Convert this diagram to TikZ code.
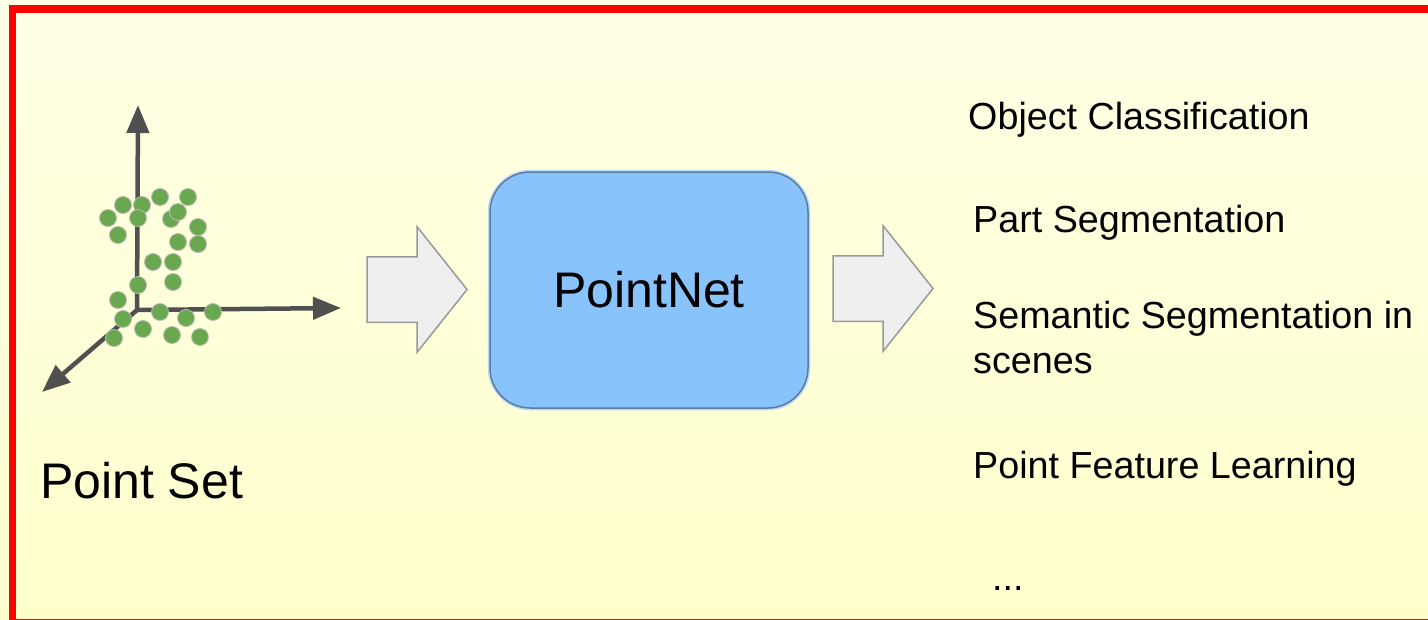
\documentclass[tikz,border=0pt]{standalone}
\usepackage{fontspec}
\setmainfont{Liberation Sans}
\usetikzlibrary{arrows.meta,positioning,shapes.arrows}
\definecolor{SetGreen}{HTML}{6AA84F}
\definecolor{AxisGray}{HTML}{505050}
\definecolor{NetBlue}{HTML}{89C3FB}
\definecolor{NetEdge}{HTML}{5E7C99}
\definecolor{PaleGray}{HTML}{EFEFEF}
\definecolor{FrameRed}{HTML}{FF0000}
\definecolor{PaperTop}{HTML}{FFFFE6}
\definecolor{PaperBottom}{HTML}{FFFFCC}
\tikzset{
  axis/.style={line width=4.5pt,draw=AxisGray,-{Triangle[length=28pt,width=22pt]}},
  setpoint/.style={fill=SetGreen,draw=gray!55,line width=0.8pt},
  netbox/.style={draw=NetEdge,line width=1.5pt,rounded corners=40pt,fill=NetBlue,minimum width=318pt,minimum height=236pt,font=\fontsize{50}{60}\selectfont,preaction={draw=NetBlue!60,line width=4.5pt}},
  blockarrow/.style={single arrow,draw=gray!80,line width=1.5pt,fill=PaleGray,minimum height=100pt,single arrow head extend=30pt,single arrow tip angle=103,inner xsep=0pt,inner ysep=32pt},
  task/.style={anchor=base west,inner sep=0pt,font=\fontsize{37.7}{45}\selectfont}
}
\begin{document}
\begin{tikzpicture}[x=1pt,y=-1pt]
  \useasboundingbox (0,0) rectangle (1428,619);
  \clip (0,0) rectangle (1428,619);
  \shade[top color=PaperTop,bottom color=PaperBottom] (0,0) rectangle (1428,619);
  \draw[FrameRed,line width=7.5pt] (12.5,9) rectangle (1445,622.5);
  \coordinate (origin) at (137,310);
  \coordinate (zaxis) at (138,105);
  \coordinate (xaxis) at (341,308);
  \coordinate (yaxis) at (42,392);
  \draw[axis] (origin) -- (zaxis);
  \draw[axis] (origin) -- (xaxis);
  \draw[axis] (origin) -- (yaxis);
  \foreach \px/\py in {123/205,142/205,160/197,188/197,108/218,138/218,171/219,178/212,198/227,118/235,178/242,198/244,153/262,173/262,173/282,138/285,118/300,160/312,186/318,213/312,123/319,143/329,172/335,200/337,114/338}
    \draw[setpoint] (\px,\py) circle (8.5pt);
  \node[anchor=base west,inner sep=0pt,font=\fontsize{50}{60}\selectfont] (pointset) at (40,498) {Point Set};
  \node[blockarrow] (arrowin) at (404,289.5) {};
  \node[netbox] (pointnet) at (649,290) {PointNet};
  \node[blockarrow] (arrowout) at (870,288.5) {};
  \node[task] (classify) at (968,129) {Object Classification};
  \node[task] (partseg) at (973,232) {Part Segmentation};
  \node[task] (semseg) at (973,328) {Semantic Segmentation in};
  \node[task] (scenes) at (973,373) {scenes};
  \node[task] (feature) at (973,478) {Point Feature Learning};
  \node[task] (more) at (992,590) {...};
\end{tikzpicture}
\end{document}
